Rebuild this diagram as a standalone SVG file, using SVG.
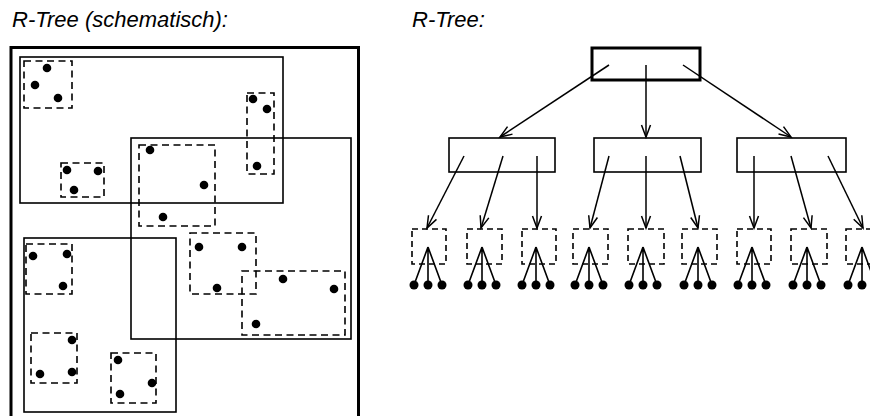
<svg xmlns="http://www.w3.org/2000/svg" width="870" height="416" viewBox="0 0 870 416">
<defs>
<style>
.t{font-family:"Liberation Sans",Arial,sans-serif;font-style:italic;font-size:22px;fill:#000}
.thick{fill:none;stroke:#000;stroke-width:3}
.box{fill:none;stroke:#000;stroke-width:1.6}
.dash{fill:none;stroke:#000;stroke-width:1.6;stroke-dasharray:7,4.5}
.ldash{fill:none;stroke:#000;stroke-width:1.6;stroke-dasharray:6,4}
.ln{fill:none;stroke:#000;stroke-width:1.6}
.arr{fill:none;stroke:#000;stroke-width:1.5;marker-end:url(#v)}
.d{fill:#000}
</style>
<marker id="v" markerUnits="userSpaceOnUse" markerWidth="14" markerHeight="12" refX="13" refY="5" orient="auto" overflow="visible">
<path d="M1,0.5 L13,5 L1,9.5" fill="none" stroke="#000" stroke-width="1.5"/>
</marker>
<g id="leafsym">
<path class="ln" d="M0,247 L-14,285 M0,247 L0,285 M0,247 L14,285"/>
<circle class="d" cx="-14" cy="285" r="4.5"/>
<circle class="d" cx="0" cy="285" r="4.5"/>
<circle class="d" cx="14" cy="285" r="4.5"/>
</g>
</defs>
<rect width="870" height="416" fill="#fff"/>
<text class="t" x="12" y="27">R-Tree (schematisch):</text>
<text class="t" x="412" y="27">R-Tree:</text>

<g id="schematic">
<rect class="thick" x="11" y="47.5" width="347.5" height="380"/>
<rect class="box" x="20" y="57" width="263" height="146"/>
<rect class="box" x="131" y="138" width="220" height="201"/>
<rect class="box" x="24" y="238" width="152" height="174"/>
<rect class="dash" x="24" y="61" width="48" height="47"/>
<rect class="dash" x="247" y="93" width="27" height="81"/>
<rect class="dash" x="61" y="163" width="43" height="34"/>
<rect class="dash" x="139" y="145" width="76" height="81"/>
<rect class="dash" x="26" y="244" width="46" height="50"/>
<rect class="dash" x="31" y="333" width="46" height="50"/>
<rect class="dash" x="111" y="353" width="45" height="50"/>
<rect class="dash" x="190" y="233" width="66" height="61"/>
<rect class="dash" x="242" y="271" width="103" height="64"/>
<g class="d">
<circle cx="47" cy="68" r="4.3"/><circle cx="35" cy="85" r="4.3"/><circle cx="58" cy="98" r="4.3"/>
<circle cx="253" cy="99" r="4.3"/><circle cx="267" cy="109" r="4.3"/><circle cx="257" cy="166" r="4.3"/>
<circle cx="67" cy="170" r="4.3"/><circle cx="98" cy="171" r="4.3"/><circle cx="74" cy="190" r="4.3"/>
<circle cx="150" cy="150" r="4.3"/><circle cx="204" cy="185" r="4.3"/><circle cx="163" cy="217" r="4.3"/>
<circle cx="33" cy="256" r="4.3"/><circle cx="67" cy="254" r="4.3"/><circle cx="63" cy="286" r="4.3"/>
<circle cx="72" cy="340" r="4.3"/><circle cx="40" cy="374" r="4.3"/><circle cx="72" cy="372" r="4.3"/>
<circle cx="118" cy="360" r="4.3"/><circle cx="152" cy="383" r="4.3"/><circle cx="120" cy="394" r="4.3"/>
<circle cx="199" cy="247" r="4.3"/><circle cx="242" cy="247" r="4.3"/><circle cx="217" cy="288" r="4.3"/>
<circle cx="283" cy="279" r="4.3"/><circle cx="334" cy="289" r="4.3"/><circle cx="256" cy="324" r="4.3"/>
</g>
</g>

<g id="root"><rect class="thick" x="592" y="48" width="108" height="32"/></g>
<g id="n1"><rect class="box" x="449" y="138" width="106" height="34"/></g>
<g id="n2"><rect class="box" x="594" y="138" width="107" height="34"/></g>
<g id="n3"><rect class="box" x="737" y="138" width="109" height="34"/></g>

<g id="leaf1"><rect class="ldash" x="412" y="229" width="34" height="35"/><use href="#leafsym" x="428"/></g>
<g id="leaf2"><rect class="ldash" x="467" y="229" width="35" height="35"/><use href="#leafsym" x="482"/></g>
<g id="leaf3"><rect class="ldash" x="522" y="229" width="34" height="35"/><use href="#leafsym" x="536"/></g>
<g id="leaf4"><rect class="ldash" x="573" y="229" width="35" height="35"/><use href="#leafsym" x="589"/></g>
<g id="leaf5"><rect class="ldash" x="628" y="229" width="36" height="35"/><use href="#leafsym" x="643"/></g>
<g id="leaf6"><rect class="ldash" x="682" y="229" width="35" height="35"/><use href="#leafsym" x="698"/></g>
<g id="leaf7"><rect class="ldash" x="737" y="229" width="34" height="35"/><use href="#leafsym" x="752"/></g>
<g id="leaf8"><rect class="ldash" x="791" y="229" width="36" height="35"/><use href="#leafsym" x="807"/></g>
<g id="leaf9"><rect class="ldash" x="846" y="229" width="36" height="35"/><use href="#leafsym" x="862"/></g>

<g id="connectors">
<path class="arr" d="M609,65 L500,137"/>
<path class="arr" d="M646,65 L646,137"/>
<path class="arr" d="M683,65 L791,137"/>
<path class="arr" d="M464,156 L427,228"/>
<path class="arr" d="M503,156 L481,228"/>
<path class="arr" d="M537,156 L537,228"/>
<path class="arr" d="M609,156 L590,228"/>
<path class="arr" d="M646,156 L646,228"/>
<path class="arr" d="M680,156 L698,228"/>
<path class="arr" d="M754,156 L754,228"/>
<path class="arr" d="M791,156 L811,228"/>
<path class="arr" d="M828,156 L863,228"/>
</g>
</svg>
